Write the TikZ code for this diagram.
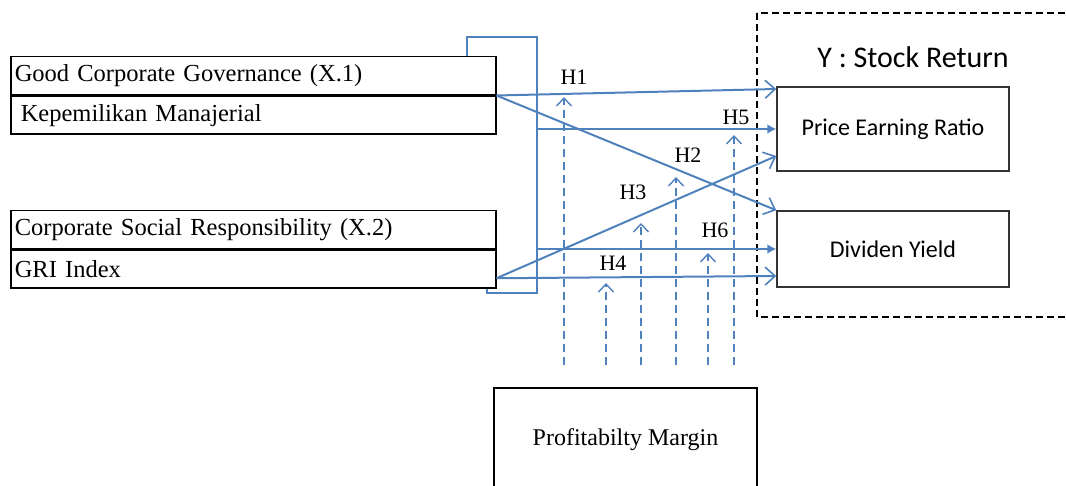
\documentclass[tikz,border=0pt]{standalone}
\usepackage{fontspec}
\setmainfont{Liberation Serif}
\newfontfamily\calibri{Carlito}
\usetikzlibrary{arrows.meta}
\definecolor{lineblue}{RGB}{79,129,189}
\tikzset{
	rowbox/.style={draw=black,line width=1.5pt,anchor=north west,minimum width=485,minimum height=38,
		text width=477,inner xsep=3,font=\fontsize{24.5}{27}\selectfont},
	ybox/.style={draw=black!80,line width=1.5pt,minimum width=232,font=\calibri\fontsize{24}{27}\selectfont},
	bluebar/.style={draw=lineblue,line width=2pt},
	openarr/.style={bluebar,-{Straight Barb[length=10pt,width=18pt,line width=1.6pt]}},
	fillarr/.style={bluebar,-{Latex[length=9pt,width=10pt]}},
	modarr/.style={draw=lineblue,line width=1.6pt,dash pattern=on 8pt off 5pt,
		-{Straight Barb[length=8pt,width=15pt,line width=1.4pt]}},
	hlabel/.style={font=\fontsize{22}{24}\selectfont}
}
\begin{document}
\begin{tikzpicture}[x=1pt,y=-1pt]
	\useasboundingbox (0,0) rectangle (1066,486);
	% left side variables
	\node[rowbox] (gcg) at (10,56) {Good Corporate Governance (X.1)};
	\node[rowbox] (km) at (gcg.south west) {\hspace{6pt}Kepemilikan Manajerial};
	\node[rowbox] (csr) at (10,210) {Corporate Social Responsibility (X.2)};
	\node[rowbox] (gri) at (csr.south west) {GRI Index};
	% stock return group
	\draw[black,line width=1.6pt,dash pattern=on 7pt off 4pt] (757,13) rectangle (1080,317);
	\node[font=\calibri\fontsize{30}{33}\selectfont] (ytitle) at (913,57) {Y : Stock Return};
	\node[ybox,minimum height=84] (per) at (893,129) {Price Earning Ratio};
	\node[ybox,minimum height=76] (dy) at (893,249) {Dividen Yield};
	% moderator
	\node[draw,line width=1.6pt,minimum width=263,minimum height=104,font=\fontsize{24}{27}\selectfont] (pm) at (625.5,440) {Profitabilty Margin};
	% bracket joining both variables
	\coordinate (brtop) at (537,37);
	\coordinate (brbot) at (537,293);
	\draw[bluebar] ([xshift=-30pt]gcg.north east) |- (brtop) -- (brbot) -| ([xshift=-10pt]gri.south east);
	\coordinate (xone) at (gcg.south east);
	\coordinate (xtwo) at ([yshift=-9pt]gri.east);
	\draw[openarr] (xone) -- ([yshift=40pt]per.west); % H1
	\draw[openarr] (xone) -- (dy.north west); % H2
	\draw[openarr] (xtwo) -- ([yshift=-27pt]per.west); % H3
	\draw[openarr] (xtwo) -- ([yshift=-27pt]dy.west); % H4
	\draw[fillarr] (brtop |- per.west) -- (per.west); % H5
	\draw[fillarr] (brtop |- dy.west) -- (dy.west); % H6
	\foreach \x/\top in {564/97, 606/283, 641/223, 676/177, 708/253, 734/135}
	\draw[modarr] (\x,365) -- (\x,\top);
	\foreach \name/\pos in {H1/{574,77}, H2/{688,155}, H3/{633,192}, H4/{613,263}, H5/{736,117}, H6/{715,230}}
	\node[hlabel] (\name) at (\pos) {\name};
\end{tikzpicture}
\end{document}
